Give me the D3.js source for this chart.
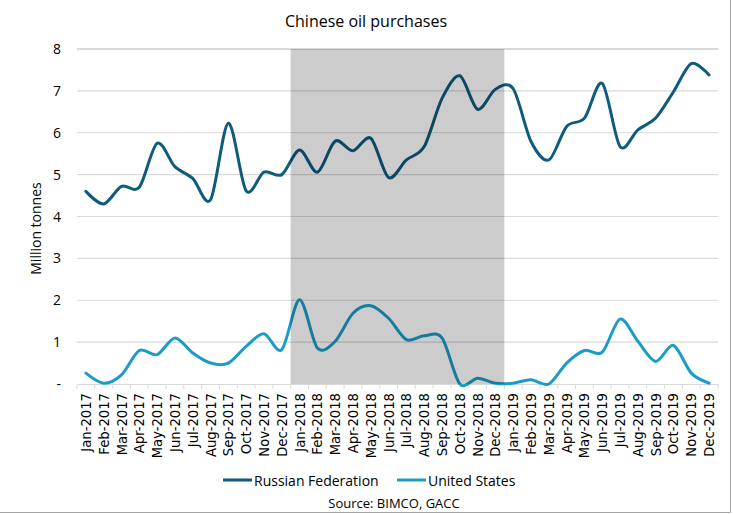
<!DOCTYPE html>
<html>
<head>
<meta charset="utf-8">
<script src="https://cdn.jsdelivr.net/npm/d3@7"></script>
<style>
  body { margin: 0; background: #fff; }
  svg { display: block; font-family: "Open Sans", "Noto Sans", sans-serif; }
</style>
</head>
<body>
<div class="container"></div>
<script>
// months shown on the x axis
const months = ["Jan", "Feb", "Mar", "Apr", "May", "Jun", "Jul", "Aug", "Sep", "Oct", "Nov", "Dec"];
const years = [2017, 2018, 2019];
const categories = years.flatMap(y => months.map(m => `${m}-${y}`));

// million tonnes
const russia = [4.60, 4.30, 4.72, 4.70, 5.75, 5.19, 4.91, 4.40, 6.23, 4.61, 5.06, 5.00,
                5.59, 5.06, 5.80, 5.57, 5.87, 4.93, 5.35, 5.67, 6.82, 7.36, 6.56, 7.04,
                7.05, 5.79, 5.35, 6.15, 6.35, 7.18, 5.67, 6.07, 6.35, 6.98, 7.65, 7.38];
const usa = [0.26, 0.02, 0.22, 0.80, 0.70, 1.10, 0.74, 0.50, 0.50, 0.90, 1.20, 0.82,
             2.01, 0.86, 1.02, 1.69, 1.87, 1.57, 1.06, 1.15, 1.10, 0.00, 0.14, 0.02,
             0.02, 0.10, 0.00, 0.50, 0.80, 0.76, 1.55, 1.02, 0.54, 0.92, 0.26, 0.02];

const yTicks = [0, 1, 2, 3, 4, 5, 6, 7, 8];
// shaded period: Jan-2018 to Dec-2018
const shadeFrom = "Jan-2018", shadeTo = "Dec-2018";

const series = [
  { name: "Russian Federation", values: russia, color: "#0f5b7c" },
  { name: "United States", values: usa, color: "#1a9cc7" }
];

const W = 733, H = 514;
const plot = { left: 77, right: 718, top: 49, bottom: 384 };

const svg = d3.select(".container").append("svg")
  .attr("width", W).attr("height", H);

const x = d3.scaleBand().domain(categories).range([plot.left, plot.right]);
const y = d3.scaleLinear().domain([0, 8]).range([plot.bottom, plot.top]);

// gridlines
svg.append("g").selectAll("line").data(yTicks.filter(d => d > 0)).join("line")
  .attr("x1", plot.left).attr("x2", plot.right)
  .attr("y1", d => y(d)).attr("y2", d => y(d))
  .attr("stroke", "#d9d9d9").attr("stroke-width", d => d === 8 ? 2 : 1.2);

// x axis line and ticks
const xAxis = d3.axisBottom(x).tickSize(0).tickFormat("");
svg.append("g").attr("transform", `translate(0,${plot.bottom})`).call(xAxis)
  .call(g => g.select(".domain").attr("stroke", "#d9d9d9").attr("stroke-width", 1.2));
svg.append("g").selectAll("line").data(d3.range(categories.length + 1)).join("line")
  .attr("x1", i => plot.left + i * x.step()).attr("x2", i => plot.left + i * x.step())
  .attr("y1", plot.bottom).attr("y2", plot.bottom + 5)
  .attr("stroke", "#d9d9d9");

// x labels, rotated
svg.append("g").selectAll("text").data(categories).join("text")
  .attr("transform", d => `translate(${x(d) + x.bandwidth() / 2 + 5},${plot.bottom + 9}) rotate(-90)`)
  .attr("text-anchor", "end")
  .attr("font-family", "DejaVu Sans")
  .attr("font-size", 13.2)
  .attr("fill", "#000")
  .text(d => d);

// y labels
svg.append("g").selectAll("text").data(yTicks).join("text")
  .attr("x", 61).attr("y", d => y(d) + 5)
  .attr("text-anchor", "end")
  .attr("font-size", 14)
  .text(d => d === 0 ? "-" : d);

svg.append("text")
  .attr("transform", `translate(41,${(plot.top + plot.bottom) / 2 + 12}) rotate(-90)`)
  .attr("text-anchor", "middle").attr("font-size", 14)
  .text("Million tonnes");

// lines
const line = d3.line()
  .x((d, i) => x(categories[i]) + x.bandwidth() / 2)
  .y(d => y(d))
  .curve(d3.curveCardinal.tension(0.1));

svg.append("g").selectAll("path").data(series).join("path")
  .attr("d", d => line(d.values))
  .attr("fill", "none")
  .attr("stroke", d => d.color)
  .attr("stroke-width", 3)
  .attr("stroke-linecap", "round")
  .attr("stroke-linejoin", "round");

// shaded period drawn on top, translucent
svg.append("rect")
  .attr("x", x(shadeFrom)).attr("width", x(shadeTo) + x.bandwidth() - x(shadeFrom))
  .attr("y", plot.top).attr("height", plot.bottom - plot.top)
  .attr("fill", "#000").attr("opacity", 0.2);

// title
svg.append("text")
  .attr("x", 366).attr("y", 27)
  .attr("text-anchor", "middle").attr("font-size", 16)
  .text("Chinese oil purchases");

// legend
const legend = svg.append("g").selectAll("g").data(series).join("g")
  .attr("transform", (d, i) => `translate(${i === 0 ? 223 : 397},480)`);
legend.append("line").attr("x1", 0).attr("x2", 29)
  .attr("stroke", d => d.color).attr("stroke-width", 3);
legend.append("text").attr("x", 31).attr("y", 5.5).attr("font-size", 14)
  .text(d => d.name);

// source
svg.append("text")
  .attr("x", 394).attr("y", 508)
  .attr("text-anchor", "middle").attr("font-size", 13)
  .text("Source: BIMCO, GACC");

// chart border (right and bottom visible)
svg.append("path")
  .attr("d", `M${W - 2.5},0V${H - 1.5}H0`)
  .attr("fill", "none").attr("stroke", "#a6a6a6");
</script>
</body>
</html>
